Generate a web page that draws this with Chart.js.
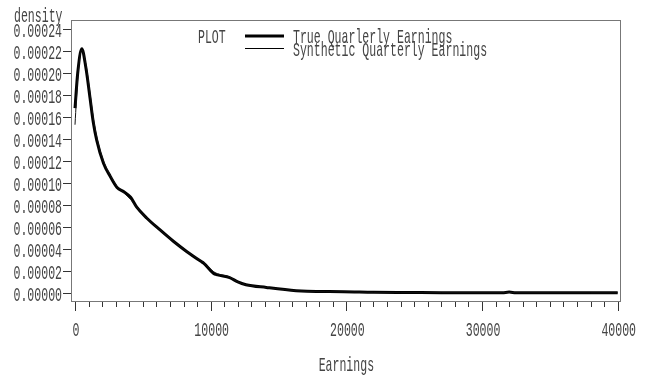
<!DOCTYPE html>
<html>
<head>
<meta charset="utf-8">
<script src="https://cdn.jsdelivr.net/npm/chart.js@4.4.1/dist/chart.umd.min.js"></script>
<style>
  html, body { margin: 0; padding: 0; background: #fff; }
  canvas { display: block; }
</style>
</head>
<body>
<canvas id="kd-density" width="649" height="376"></canvas>
<script>
// values (density of quarterly earnings)
const earnings = [0, 200, 500, 800, 1100, 1350, 1600, 2100, 2600, 3100, 3600, 4100, 4550, 5300, 6250, 7250, 8250, 9250, 9500, 10200, 10500, 11400, 12000, 12600, 14100, 16300, 17100, 19800, 22000, 24000, 27000, 30000, 31500, 32000, 32500, 35000, 38000, 40000];
const trueDensity = [0.000168, 0.000200, 0.000222, 0.000205, 0.000178, 0.000155, 0.000139, 0.000118, 0.000106, 0.000096, 0.000092, 0.000087, 0.000078, 0.000068, 0.0000575, 0.000047, 0.0000375, 0.000029, 0.000027, 0.000018, 0.0000165, 0.000014, 0.000010, 0.0000075, 0.000005, 0.000002, 0.0000015, 0.0000012, 0.0000006, 0.0000004, 0.0000003, 0.0000001, 0.0000002, 0.0000008, 0.0000002, 0.0000001, 0.0000001, 0.0000002];
const synthDensity = [0.000153, 0.000195, 0.000221, 0.000208, 0.000182, 0.000159, 0.000142, 0.000120, 0.000107, 0.000097, 0.000091, 0.000085, 0.000078, 0.000068, 0.0000575, 0.000047, 0.0000375, 0.0000295, 0.0000275, 0.0000195, 0.0000175, 0.0000145, 0.000010, 0.0000075, 0.000005, 0.000002, 0.0000015, 0.000001, 0.0000005, 0.0000003, 0.0000004, 0.0000003, 0.0000003, 0.0000005, 0.0000003, 0.0000003, 0.0000002, 0.0000002];
const yTicks = [0, 0.00002, 0.00004, 0.00006, 0.00008, 0.00010, 0.00012, 0.00014, 0.00016, 0.00018, 0.00020, 0.00022, 0.00024];
const xTicks = [0, 10000, 20000, 30000, 40000];
const xMinorStep = 1000;
const seriesLabels = ['True Quarlerly Earnings', 'Synthetic Quarterly Earnings'];

const FONT = '21px "Liberation Mono", "DejaVu Sans Mono", monospace';
const INK = '#444';

// SAS-like narrow lettering: mono font squeezed horizontally
function txt(ctx, s, x, y, align) {
    ctx.save();
    ctx.translate(x, y);
    ctx.scale(0.55, 1);
    ctx.font = FONT;
    ctx.fillStyle = INK;
    ctx.textAlign = align || 'left';
    ctx.textBaseline = 'alphabetic';
    ctx.fillText(s, 0, 0);
    ctx.restore();
}

const sasFrame = {
    id: 'sasFrame',
    afterDraw(chart) {
        const { ctx, chartArea: a, scales: { x, y } } = chart;
        ctx.save();
        ctx.strokeStyle = '#777';
        ctx.lineWidth = 1;
        ctx.strokeRect(a.left + 0.5, a.top + 0.5, a.right - a.left - 1, a.bottom - a.top - 1);

        // y axis ticks + labels
        ctx.strokeStyle = '#333';
        yTicks.forEach((v) => {
            const py = Math.round(y.getPixelForValue(v)) + 0.5;
            ctx.beginPath(); ctx.moveTo(a.left - 8, py); ctx.lineTo(a.left, py); ctx.stroke();
            txt(ctx, v.toFixed(5), a.left - 9, py + 7, 'right');
        });
        txt(ctx, 'density', 14, 22, 'left');

        // x axis ticks (minor every 1000) + labels
        for (let v = 0; v <= xTicks[xTicks.length - 1]; v += xMinorStep) {
            const px = Math.round(x.getPixelForValue(v)) + 0.5;
            const major = xTicks.includes(v);
            ctx.beginPath(); ctx.moveTo(px, a.bottom); ctx.lineTo(px, a.bottom + (major ? 9 : 5)); ctx.stroke();
        }
        xTicks.forEach((v) => txt(ctx, String(v), x.getPixelForValue(v) + 1, a.bottom + 34, 'center'));
        txt(ctx, 'Earnings', (x.getPixelForValue(0) + x.getPixelForValue(40000)) / 2, 370.5, 'center');

        // legend
        txt(ctx, 'PLOT', 198, 43, 'left');
        ctx.strokeStyle = '#000';
        ctx.lineWidth = 3;
        ctx.beginPath(); ctx.moveTo(245, 36); ctx.lineTo(284, 36); ctx.stroke();
        ctx.lineWidth = 1;
        ctx.beginPath(); ctx.moveTo(245, 48.5); ctx.lineTo(284, 48.5); ctx.stroke();
        txt(ctx, seriesLabels[0], 293, 43, 'left');
        txt(ctx, seriesLabels[1], 293, 56, 'left');
        ctx.restore();
    },
};

new Chart(document.getElementById('kd-density'), {
    type: 'line',
    data: {
        datasets: [
            { label: seriesLabels[0], data: earnings.map((e, i) => ({ x: e, y: trueDensity[i] })), borderColor: '#000', borderWidth: 3, order: 2 },
            { label: seriesLabels[1], data: earnings.map((e, i) => ({ x: e, y: synthDensity[i] })), borderColor: '#111', borderWidth: 1, order: 1 },
        ],
    },
    options: {
        responsive: false, animation: false, devicePixelRatio: 1,
        layout: { padding: { left: 71, top: 20, right: 28, bottom: 74 } },
        elements: { point: { radius: 0 }, line: { cubicInterpolationMode: 'monotone', fill: false } },
        plugins: { legend: { display: false }, tooltip: { enabled: false } },
        scales: {
            x: { type: 'linear', min: -295, max: 40243, display: false },
            y: { min: -0.0000082, max: 0.0002482, display: false },
        },
    },
    plugins: [sasFrame],
});
</script>
</body>
</html>
